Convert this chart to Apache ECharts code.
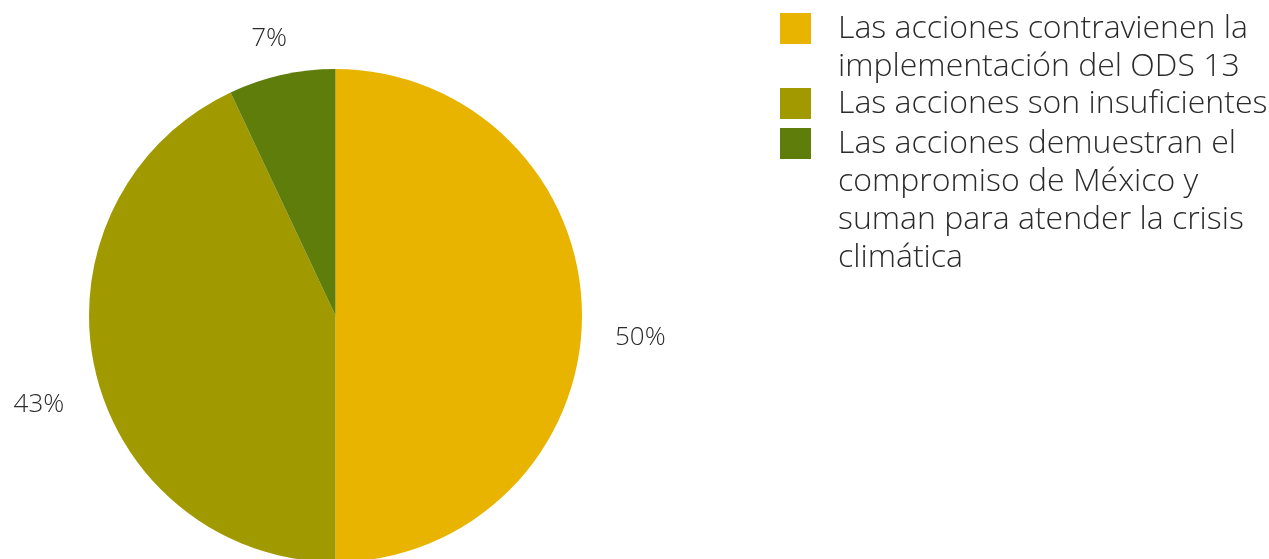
<!DOCTYPE html>
<html>
<head>
<meta charset="utf-8">
<script src="https://cdn.jsdelivr.net/npm/echarts@6/dist/echarts.min.js"></script>
<style>
html,body{margin:0;padding:0;background:#fff;}
#chart{width:1269px;height:559px;}
</style>
</head>
<body>
<div id="chart"></div>
<script>
const categories = [
  'Las acciones contravienen la\nimplementación del ODS 13',
  'Las acciones son insuficientes',
  'Las acciones demuestran el\ncompromiso de México y\nsuman para atender la crisis\nclimática'
];
const values = [50, 43, 7];
const colors = ['#E8B400', '#A09A00', '#5E7D0A'];

// label offsets (style only)
const labelShift = [[1, 22], [1, 33], [28, -25]];
// legend icon tops (style only)
const legendIconTops = [13, 88, 128];

const FONT = '"Open Sans", sans-serif';
const LINE = 38;
const SQ = 31;
const LIFT = 9; // text line sits slightly above the square's centre

const chart = echarts.init(document.getElementById('chart'), null, {renderer: 'canvas'});

function pt(y) { return 'M0,' + y + 'L0.001,' + y + 'L0,' + y + 'Z '; }

const legends = categories.map((name, i) => {
  const n = name.split('\n').length;
  const H = LIFT + SQ + LIFT + (n - 1) * LINE;
  const icon = 'path://' + pt(0) +
    'M0,' + LIFT + 'H' + SQ + 'V' + (LIFT + SQ) + 'H0Z ' + pt(H);
  return {
    data: [{name: name, icon: icon}],
    orient: 'vertical',
    left: 780,
    top: legendIconTops[i] - LIFT,
    padding: 0,
    itemWidth: SQ,
    itemHeight: H,
    selectedMode: false,
    textStyle: {
      fontFamily: FONT,
      fontWeight: 300,
      fontSize: 32,
      lineHeight: LINE,
      color: '#2b2b2b',
      padding: [0, 0, 0, 22]
    }
  };
});

chart.setOption({
  animation: false,
  color: colors,
  legend: legends,
  series: [{
    type: 'pie',
    center: [335.5, 315.5],
    radius: 246.5,
    startAngle: 90,
    clockwise: true,
    avoidLabelOverlap: false,
    itemStyle: {borderWidth: 0},
    label: {
      show: true,
      position: 'outside',
      formatter: '{d}%',
      fontFamily: FONT,
      fontWeight: 300,
      fontSize: 26,
      color: '#2b2b2b'
    },
    labelLine: {show: false, length: 12, length2: 15},
    labelLayout: function (params) {
      const s = labelShift[params.dataIndex];
      return {dx: s[0], dy: s[1]};
    },
    data: categories.map((c, i) => ({name: c, value: values[i]}))
  }]
});
</script>
</body>
</html>
